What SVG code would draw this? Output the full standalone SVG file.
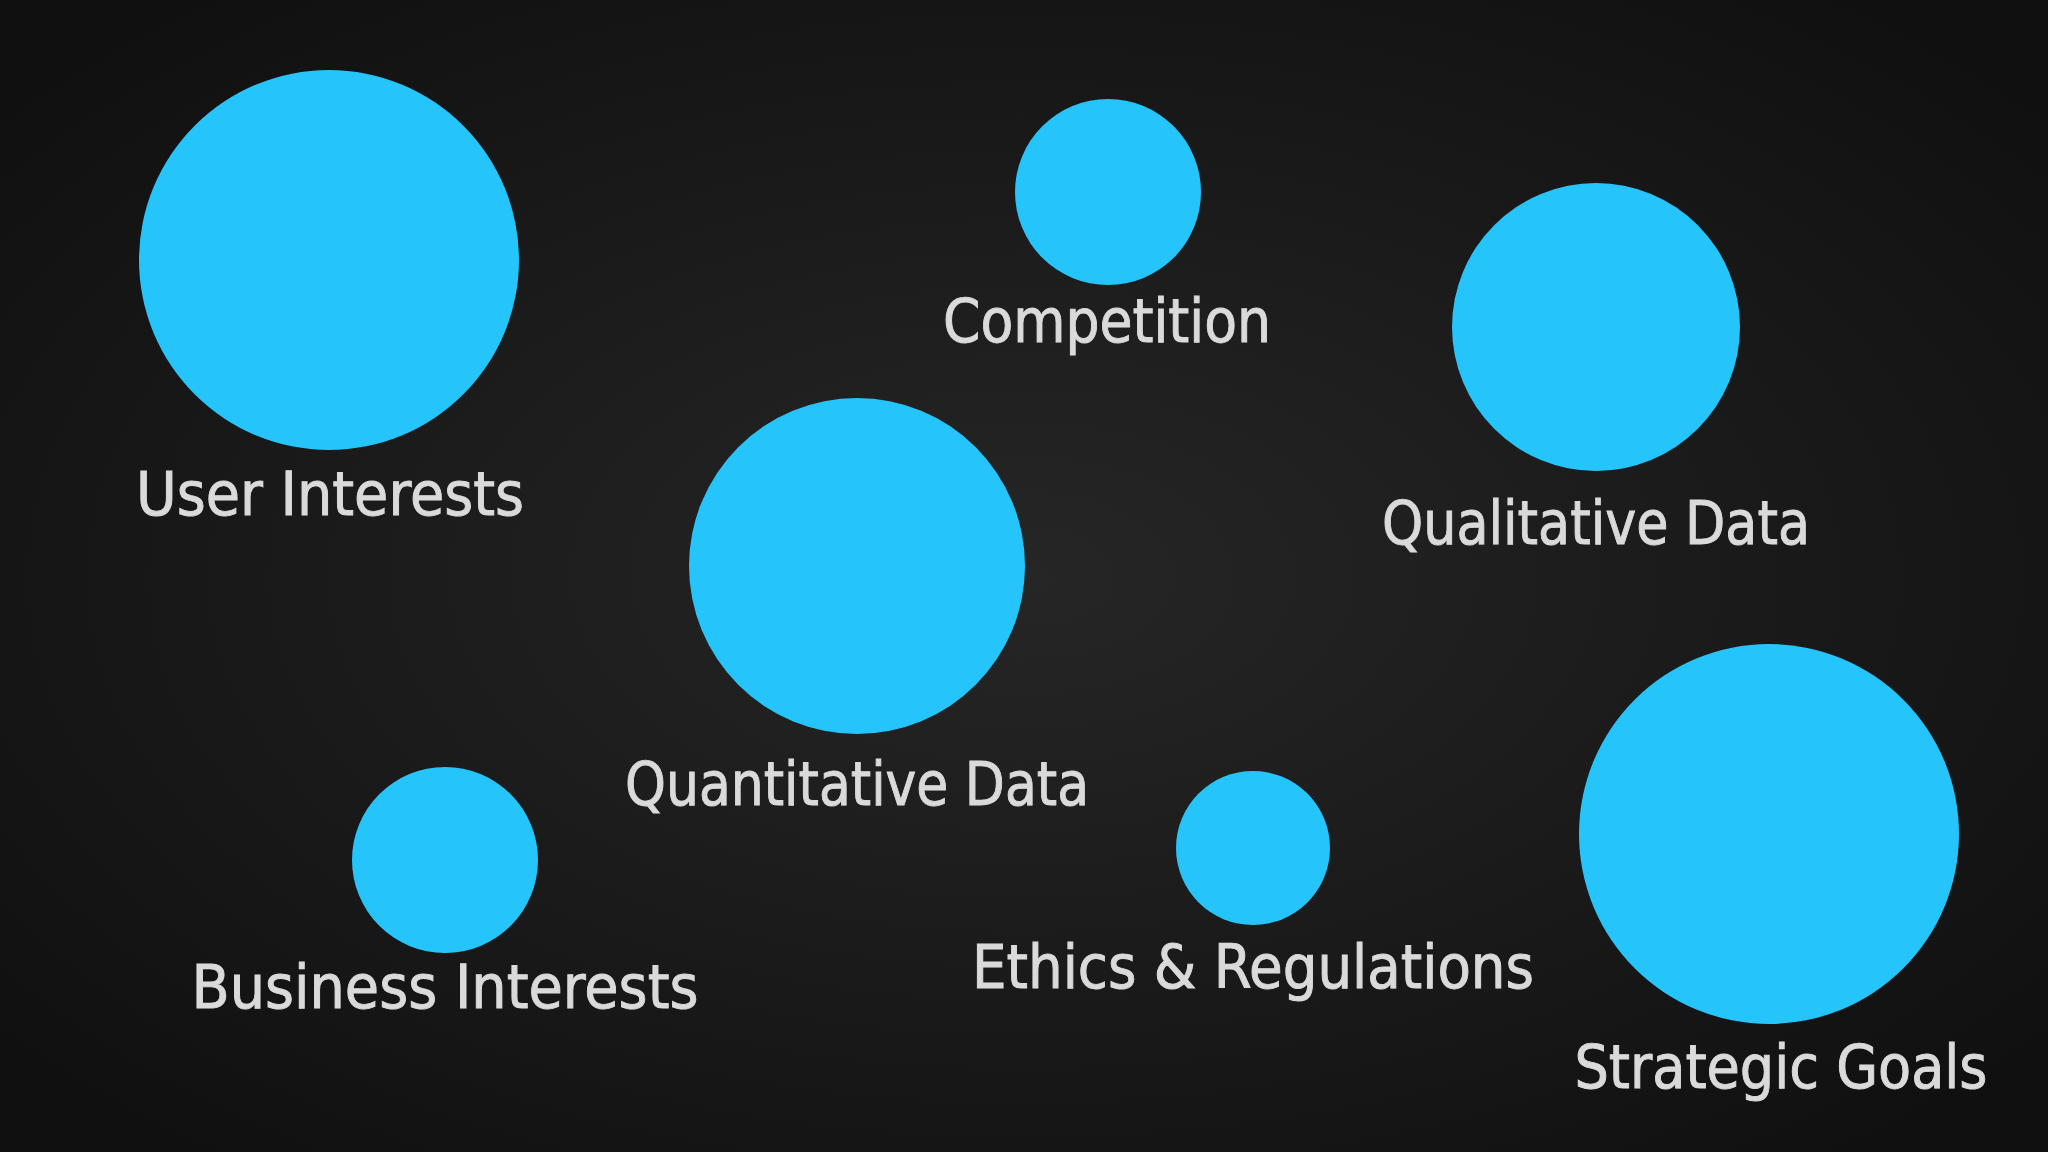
<svg xmlns="http://www.w3.org/2000/svg" width="2048" height="1152" viewBox="0 0 2048 1152">
  <defs>
    <radialGradient id="bg" cx="50%" cy="50%" r="65%">
      <stop offset="0" stop-color="#262626"/>
      <stop offset="1" stop-color="#101010"/>
    </radialGradient>
  </defs>
  <style>
    .dot { fill: #25C5FC; }
    .lbl { font-family: "DejaVu Sans Condensed", "Liberation Sans", sans-serif; font-size: 60px; fill: #dadada; stroke: #dadada; stroke-width: 0.9px; text-anchor: middle; }
  </style>
  <rect x="0" y="0" width="2048" height="1152" fill="url(#bg)"/>
  <g id="connectors"></g>
  <g id="user-interests">
    <circle class="dot" cx="329" cy="260" r="190"/>
    <text class="lbl" x="330" y="515" textLength="388" lengthAdjust="spacingAndGlyphs">User Interests</text>
  </g>
  <g id="competition">
    <circle class="dot" cx="1108" cy="192" r="93"/>
    <text class="lbl" x="1107" y="342" textLength="328" lengthAdjust="spacingAndGlyphs">Competition</text>
  </g>
  <g id="qualitative-data">
    <circle class="dot" cx="1596" cy="327" r="144"/>
    <text class="lbl" x="1596" y="544" textLength="428" lengthAdjust="spacingAndGlyphs">Qualitative Data</text>
  </g>
  <g id="quantitative-data">
    <circle class="dot" cx="857" cy="566" r="168"/>
    <text class="lbl" x="857" y="805" textLength="464" lengthAdjust="spacingAndGlyphs">Quantitative Data</text>
  </g>
  <g id="business-interests">
    <circle class="dot" cx="445" cy="860" r="93"/>
    <text class="lbl" x="445" y="1008" textLength="507" lengthAdjust="spacingAndGlyphs">Business Interests</text>
  </g>
  <g id="ethics-regulations">
    <circle class="dot" cx="1253" cy="848" r="77"/>
    <text class="lbl" x="1253" y="988" textLength="562" lengthAdjust="spacingAndGlyphs">Ethics &amp; Regulations</text>
  </g>
  <g id="strategic-goals">
    <circle class="dot" cx="1769" cy="834" r="190"/>
    <text class="lbl" x="1781" y="1088" textLength="413" lengthAdjust="spacingAndGlyphs">Strategic Goals</text>
  </g>
</svg>
